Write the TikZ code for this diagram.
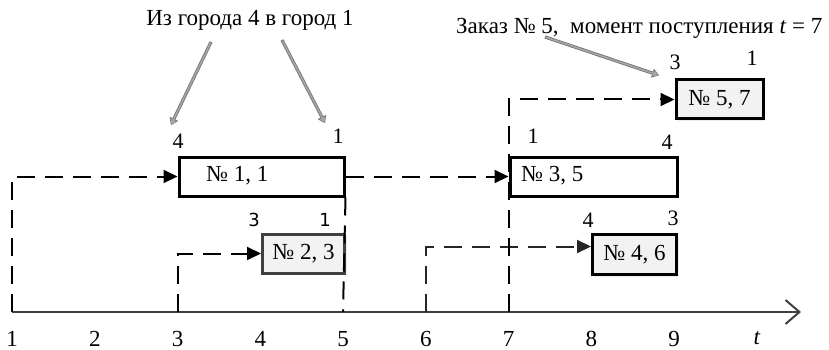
\documentclass[tikz,border=0pt]{standalone}
\usepackage{fontspec}
\setmainfont{Liberation Serif}
\newfontfamily\digsans{DejaVu Sans}
\usetikzlibrary{arrows.meta,shadows}
\begin{document}
\begin{tikzpicture}[x=1pt,y=-1pt,
  box/.style={draw=black, line width=3pt, fill=white, inner sep=0pt,
    anchor=north west, drop shadow={shadow xshift=2pt, shadow yshift=-2pt, fill=black!15, opacity=0.5}},
  graybox/.style={box, fill=black!5},
  lbl/.style={font=\fontsize{23}{26}\selectfont, inner sep=0pt},
  num/.style={font=\fontsize{22}{24}\selectfont, inner sep=0pt},
  sansnum/.style={inner sep=0pt, font=\digsans\fontsize{18}{20}\selectfont},
  conn/.style={line width=2pt, dash pattern=on 18pt off 10pt, -{Triangle[length=14pt,width=13pt]}},
  guide/.style={line width=2pt, dash pattern=on 18pt off 10pt},
  callout/.style={draw=black!55, line width=3.2pt, -{Triangle[length=7pt,width=9pt]},
    shorten >=2pt},
  callin/.style={draw=black!35, line width=1.6pt, -{Triangle[length=5pt,width=6pt]},
    shorten >=3pt, shorten <=0.8pt},
]
\useasboundingbox (0,0) rectangle (829,350);

% time axis and grid positions
\coordinate (t1) at (12,312);
\coordinate (t2) at (94.75,312);
\coordinate (t3) at (177.5,312);
\coordinate (t4) at (260.25,312);
\coordinate (t5) at (343,312);
\coordinate (t6) at (425.75,312);
\coordinate (t7) at (508.5,312);
\coordinate (t8) at (591.25,312);
\coordinate (t9) at (674,312);
\coordinate (tend) at (801,312);
\draw[line width=2pt, black!75, -{Straight Barb[length=14pt,width=24pt,line width=2pt]}] (t1) -- (tend);

\foreach \k in {1,...,9}
  \node[lbl, anchor=north] (tl\k) at ([yshift=-19pt]t\k) {\k};
\node[lbl, anchor=north] (tlt) at (757,331) {\textit{t}};

% orders
\node[box, minimum width=165pt, minimum height=39pt] (b1) at (177.5,155.5) {};
\node[lbl, anchor=west] (b1t) at (206,176) {№ 1, 1};
\node[graybox, draw=black!75, minimum width=82pt, minimum height=39pt] (b2) at (261,232.5) {};
\node[lbl] (b2t) at (b2.center) {№ 2, 3};
\node[box, minimum width=167pt, minimum height=39pt] (b3) at (508.5,155.5) {};
\node[lbl, anchor=west] (b3t) at (521,176) {№ 3, 5};
\node[graybox, minimum width=84pt, minimum height=40pt] (b4) at (591,233) {};
\node[lbl] (b4t) at (b4.center) {№ 4, 6};
\node[graybox, minimum width=87pt, minimum height=39pt] (b5) at (674.5,78.5) {};
\node[lbl] (b5t) at (b5.center) {№ 5, 7};

% city numbers at the ends of each order
\node[num] (c1a) at (178,141) {4};
\node[num] (c1b) at (338,136) {1};
\node[sansnum] (c2a) at (254,220) {3};
\node[sansnum] (c2b) at (325,220) {1};
\node[num] (c3a) at (533,136) {1};
\node[num] (c3b) at (667,142) {4};
\node[num] (c4a) at (588,220) {4};
\node[num] (c4b) at (673,218) {3};
\node[num] (c5a) at (675,62) {3};
\node[num] (c5b) at (752,58) {1};

% dashed links between orders
\draw[conn] (t1) |- (b1.west);
\draw[conn] (b1.east) -- (b3.west);
\draw[conn] (t3) |- (b2.west);
\draw[guide] (b1.south east) -- (t5);
\draw[conn, black!85] (t6) |- ([yshift=8pt]b4.west);
\draw[conn] (t7) |- (b5.west);

% captions with pointers
\node[lbl] (cap1) at (250,20) {Из города 4 в город 1};
\node[lbl, anchor=west] (cap2) at (456,28) {Заказ № 5,\ \ момент поступления \textit{t} = 7};
\coordinate (p1) at (170,127);
\coordinate (p2) at (326,125);
\coordinate (p3) at (661,76);
\draw[callout] (211,42) -- (p1);
\draw[callin] (211,42) -- (p1);
\draw[callout] (282,40) -- (p2);
\draw[callin] (282,40) -- (p2);
\draw[callout] (545,37) -- (p3);
\draw[callin] (545,37) -- (p3);
\end{tikzpicture}
\end{document}
